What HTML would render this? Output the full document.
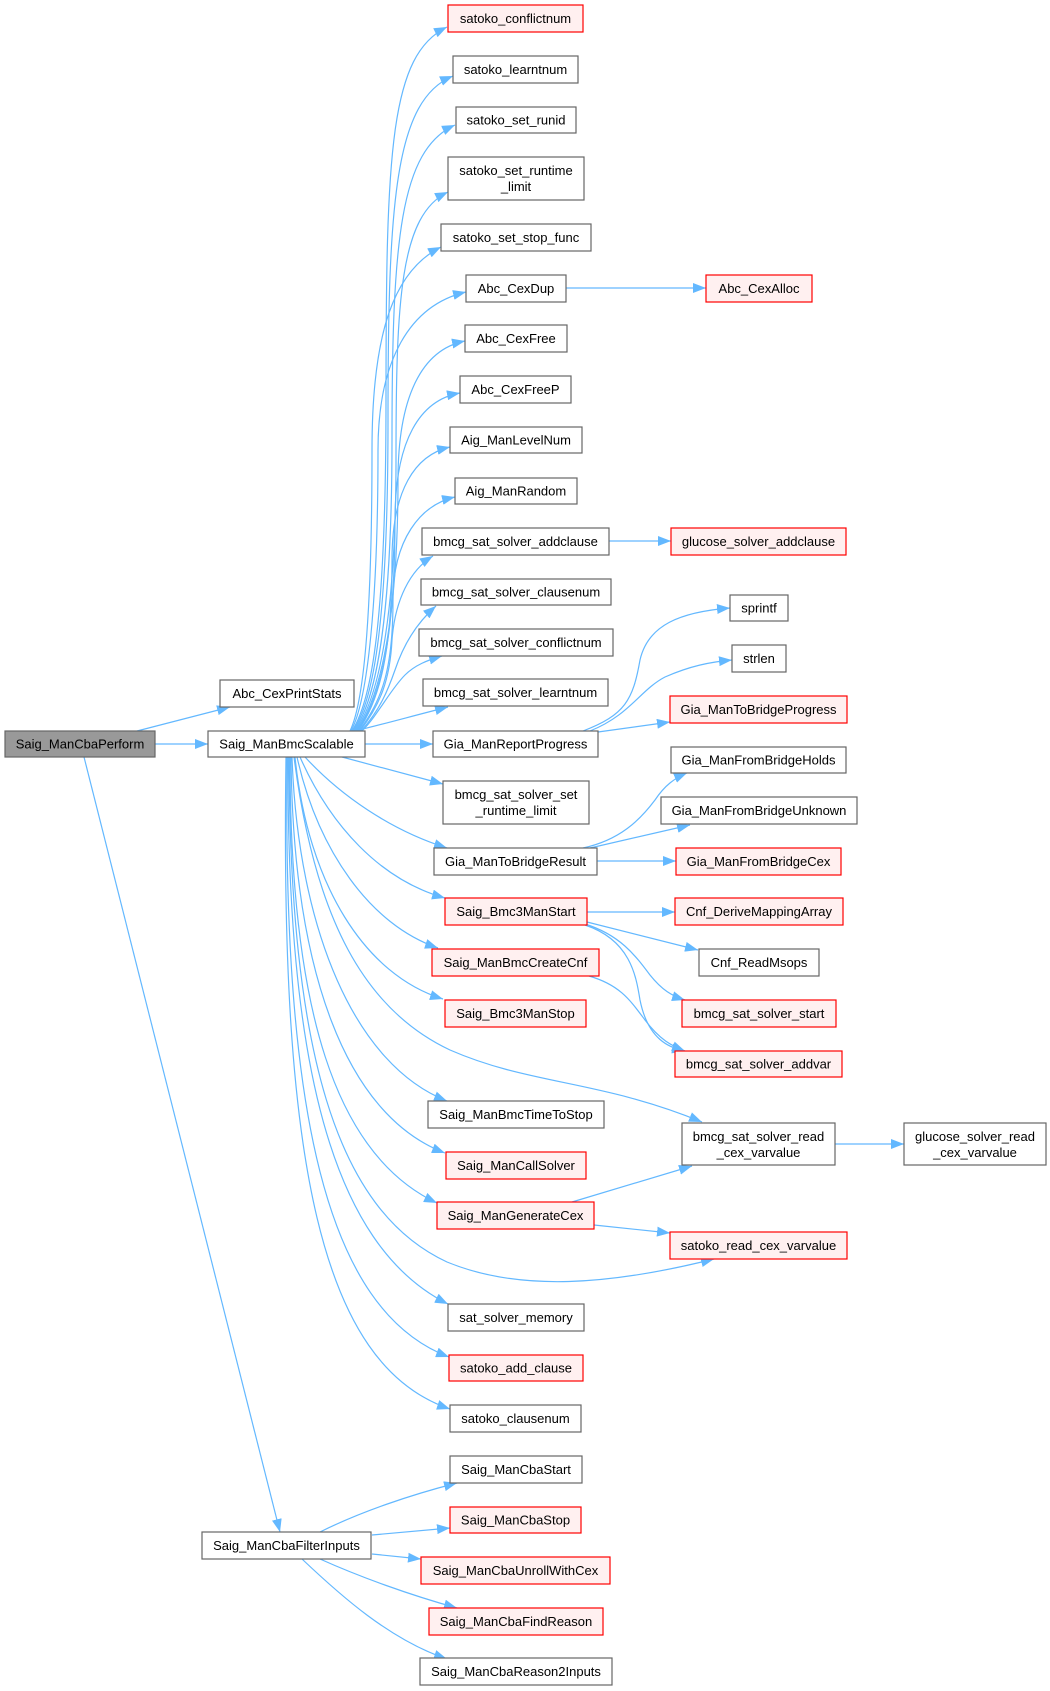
<!DOCTYPE html>
<html><head><meta charset="utf-8"><style>
html,body{margin:0;padding:0;background:#fff;}
svg{display:block;}
text{font-family:"Liberation Sans",Arial,sans-serif;font-size:13px;fill:#000;text-anchor:middle;}
.n{fill:#fff;stroke:#666;stroke-width:1.2;}
.r{fill:#fff0f0;stroke:#ff0000;stroke-width:1.2;}
.g{fill:#999;stroke:#666;stroke-width:1.2;}
.e{fill:none;stroke:#63b8ff;stroke-width:1.2;marker-end:url(#a);}
</style></head><body>
<svg width="1050" height="1691" viewBox="0 0 1050 1691" xmlns="http://www.w3.org/2000/svg">
<defs><marker id="a" markerUnits="userSpaceOnUse" markerWidth="13" markerHeight="10" refX="13" refY="5" orient="auto"><path d="M0,0 L13,5 L0,10 z" fill="#63b8ff"/></marker></defs>
<g>
<path class="e" d="M155,744 L208,744"/>
<path class="e" d="M137,731 L230,707"/>
<path class="e" d="M84,757 L280,1532"/>
<path class="e" d="M365,744 L433,744"/>
<path class="e" d="M355,731 C380,725 420,714 448,707"/>
<path class="e" d="M342,757 L443,784"/>
<path class="e" d="M305,757 C340,795 390,830 447,848"/>
<path class="e" d="M300,757 C330,825 380,880 445,898"/>
<path class="e" d="M297,757 C318,850 370,925 438,948"/>
<path class="e" d="M295,757 C308,885 365,975 443,999"/>
<path class="e" d="M294,757 C315,920 365,1010 450,1050 C530,1085 600,1080 702,1122"/>
<path class="e" d="M292,757 C298,930 355,1065 447,1101"/>
<path class="e" d="M291,757 C293,970 345,1115 445,1153"/>
<path class="e" d="M290,757 C290,1010 335,1155 437,1203"/>
<path class="e" d="M289,757 C290,1050 335,1210 447,1262 C520,1292 610,1285 714,1259"/>
<path class="e" d="M288,757 C287,1060 330,1245 448,1304"/>
<path class="e" d="M287,757 C283,1110 325,1310 449,1357"/>
<path class="e" d="M286,757 C280,1160 320,1365 450,1409"/>
<path class="e" d="M352,731 C372,700 386,620 386,400 C386,150 390,55 447,27"/>
<path class="e" d="M353,731 C374,700 388,620 388,420 C388,200 395,100 453,76"/>
<path class="e" d="M354,731 C376,700 392,620 392,440 C392,240 400,150 455,125"/>
<path class="e" d="M355,731 C378,700 396,620 396,460 C396,300 400,215 448,192"/>
<path class="e" d="M350,731 C365,700 372,600 372,450 C372,330 395,270 441,247"/>
<path class="e" d="M351,731 C368,700 378,600 378,450 C378,360 410,305 466,292"/>
<path class="e" d="M356,731 C380,700 398,620 398,480 C398,400 420,350 465,341"/>
<path class="e" d="M357,731 C380,700 395,640 395,520 C395,440 420,400 460,393"/>
<path class="e" d="M358,731 C380,700 392,650 392,560 C392,490 415,455 450,447"/>
<path class="e" d="M359,731 C382,700 393,670 393,600 C393,540 420,505 455,497"/>
<path class="e" d="M360,731 C380,705 390,680 392,640 C395,600 410,570 433,556"/>
<path class="e" d="M361,731 C380,710 388,690 395,670 C405,640 420,620 436,606"/>
<path class="e" d="M362,731 C378,715 390,690 405,675 C415,665 428,660 442,656"/>
<path class="e" d="M566,288 L706,288"/>
<path class="e" d="M609,541 L671,541"/>
<path class="e" d="M583,731 C625,715 633,700 640,660 C648,625 680,612 730,608"/>
<path class="e" d="M590,731 C630,715 640,690 665,677 C690,666 710,662 732,660"/>
<path class="e" d="M598,732 L670,722"/>
<path class="e" d="M583,848 C620,840 640,820 655,800 C665,785 675,778 687,773"/>
<path class="e" d="M590,848 L690,825"/>
<path class="e" d="M597,861 L676,861"/>
<path class="e" d="M587,912 L675,912"/>
<path class="e" d="M587,922 L698,950"/>
<path class="e" d="M585,924 C620,935 635,955 650,975 C662,990 672,996 685,1000"/>
<path class="e" d="M585,925 C630,940 636,975 640,1000 C648,1040 670,1048 685,1051"/>
<path class="e" d="M589,976 C620,985 630,1000 645,1020 C660,1040 672,1046 685,1051"/>
<path class="e" d="M572,1202 L692,1166"/>
<path class="e" d="M594,1225 L670,1233"/>
<path class="e" d="M835,1144 L904,1144"/>
<path class="e" d="M320,1532 C360,1512 410,1495 457,1483"/>
<path class="e" d="M372,1535 L450,1528"/>
<path class="e" d="M372,1554 L421,1559"/>
<path class="e" d="M320,1559 C360,1577 410,1595 457,1608"/>
<path class="e" d="M302,1559 C340,1595 390,1640 447,1659"/>
</g>
<g>
<rect class="g" x="5" y="731" width="150" height="26"/><text x="80" y="748.5">Saig_ManCbaPerform</text>
<rect class="n" x="220" y="680" width="134" height="27"/><text x="287" y="698">Abc_CexPrintStats</text>
<rect class="n" x="208" y="731" width="157" height="26"/><text x="286.5" y="748.5">Saig_ManBmcScalable</text>
<rect class="n" x="202" y="1532" width="169" height="27"/><text x="286.5" y="1550">Saig_ManCbaFilterInputs</text>

<rect class="r" x="448" y="5" width="135" height="27"/><text x="515.5" y="23">satoko_conflictnum</text>
<rect class="n" x="453" y="56" width="125" height="27"/><text x="515.5" y="74">satoko_learntnum</text>
<rect class="n" x="456" y="107" width="120" height="26"/><text x="516" y="124.5">satoko_set_runid</text>
<rect class="n" x="448" y="157" width="136" height="43"/><text x="516" y="175">satoko_set_runtime</text><text x="516" y="191">_limit</text>
<rect class="n" x="441" y="224" width="150" height="27"/><text x="516" y="242">satoko_set_stop_func</text>
<rect class="n" x="466" y="275" width="100" height="27"/><text x="516" y="293">Abc_CexDup</text>
<rect class="n" x="465" y="325" width="102" height="27"/><text x="516" y="343">Abc_CexFree</text>
<rect class="n" x="460" y="376" width="111" height="27"/><text x="515.5" y="394">Abc_CexFreeP</text>
<rect class="n" x="450" y="427" width="132" height="26"/><text x="516" y="444.5">Aig_ManLevelNum</text>
<rect class="n" x="455" y="478" width="122" height="26"/><text x="516" y="495.5">Aig_ManRandom</text>
<rect class="n" x="422" y="528" width="187" height="27"/><text x="515.5" y="546">bmcg_sat_solver_addclause</text>
<rect class="n" x="421" y="579" width="190" height="26"/><text x="516" y="596.5">bmcg_sat_solver_clausenum</text>
<rect class="n" x="419" y="629" width="194" height="27"/><text x="516" y="647">bmcg_sat_solver_conflictnum</text>
<rect class="n" x="423" y="679" width="185" height="27"/><text x="515.5" y="697">bmcg_sat_solver_learntnum</text>
<rect class="n" x="433" y="731" width="165" height="26"/><text x="515.5" y="748.5">Gia_ManReportProgress</text>
<rect class="n" x="443" y="781" width="146" height="43"/><text x="516" y="799">bmcg_sat_solver_set</text><text x="516" y="815">_runtime_limit</text>
<rect class="n" x="434" y="848" width="163" height="27"/><text x="515.5" y="866">Gia_ManToBridgeResult</text>
<rect class="r" x="445" y="898" width="142" height="27"/><text x="516" y="916">Saig_Bmc3ManStart</text>
<rect class="r" x="432" y="949" width="167" height="27"/><text x="515.5" y="967">Saig_ManBmcCreateCnf</text>
<rect class="r" x="445" y="1000" width="141" height="27"/><text x="515.5" y="1018">Saig_Bmc3ManStop</text>
<rect class="n" x="428" y="1101" width="176" height="27"/><text x="516" y="1119">Saig_ManBmcTimeToStop</text>
<rect class="r" x="446" y="1152" width="140" height="27"/><text x="516" y="1170">Saig_ManCallSolver</text>
<rect class="r" x="437" y="1202" width="157" height="27"/><text x="515.5" y="1220">Saig_ManGenerateCex</text>
<rect class="n" x="448" y="1304" width="136" height="27"/><text x="516" y="1322">sat_solver_memory</text>
<rect class="r" x="449" y="1355" width="134" height="26"/><text x="516" y="1372.5">satoko_add_clause</text>
<rect class="n" x="450" y="1405" width="131" height="27"/><text x="515.5" y="1423">satoko_clausenum</text>
<rect class="n" x="450" y="1456" width="132" height="27"/><text x="516" y="1474">Saig_ManCbaStart</text>
<rect class="r" x="450" y="1507" width="131" height="26"/><text x="515.5" y="1524.5">Saig_ManCbaStop</text>
<rect class="r" x="421" y="1557" width="189" height="27"/><text x="515.5" y="1575">Saig_ManCbaUnrollWithCex</text>
<rect class="r" x="429" y="1608" width="174" height="27"/><text x="516" y="1626">Saig_ManCbaFindReason</text>
<rect class="n" x="420" y="1658" width="192" height="27"/><text x="516" y="1676">Saig_ManCbaReason2Inputs</text>

<rect class="r" x="706" y="275" width="106" height="27"/><text x="759" y="293">Abc_CexAlloc</text>
<rect class="r" x="671" y="528" width="175" height="27"/><text x="758.5" y="546">glucose_solver_addclause</text>
<rect class="n" x="730" y="595" width="58" height="26"/><text x="759" y="612.5">sprintf</text>
<rect class="n" x="732" y="645" width="54" height="27"/><text x="759" y="663">strlen</text>
<rect class="r" x="670" y="696" width="177" height="27"/><text x="758.5" y="714">Gia_ManToBridgeProgress</text>
<rect class="n" x="671" y="747" width="175" height="26"/><text x="758.5" y="764.5">Gia_ManFromBridgeHolds</text>
<rect class="n" x="661" y="797" width="196" height="27"/><text x="759" y="815">Gia_ManFromBridgeUnknown</text>
<rect class="r" x="676" y="848" width="165" height="27"/><text x="758.5" y="866">Gia_ManFromBridgeCex</text>
<rect class="r" x="675" y="898" width="168" height="27"/><text x="759" y="916">Cnf_DeriveMappingArray</text>
<rect class="n" x="699" y="949" width="120" height="27"/><text x="759" y="967">Cnf_ReadMsops</text>
<rect class="r" x="682" y="1000" width="154" height="27"/><text x="759" y="1018">bmcg_sat_solver_start</text>
<rect class="r" x="675" y="1051" width="167" height="26"/><text x="758.5" y="1068.5">bmcg_sat_solver_addvar</text>
<rect class="n" x="682" y="1123" width="153" height="42"/><text x="758.5" y="1141">bmcg_sat_solver_read</text><text x="758.5" y="1157">_cex_varvalue</text>
<rect class="r" x="670" y="1232" width="177" height="27"/><text x="758.5" y="1250">satoko_read_cex_varvalue</text>
<rect class="n" x="904" y="1123" width="142" height="42"/><text x="975" y="1141">glucose_solver_read</text><text x="975" y="1157">_cex_varvalue</text>
</g>
</svg>
</body></html>
